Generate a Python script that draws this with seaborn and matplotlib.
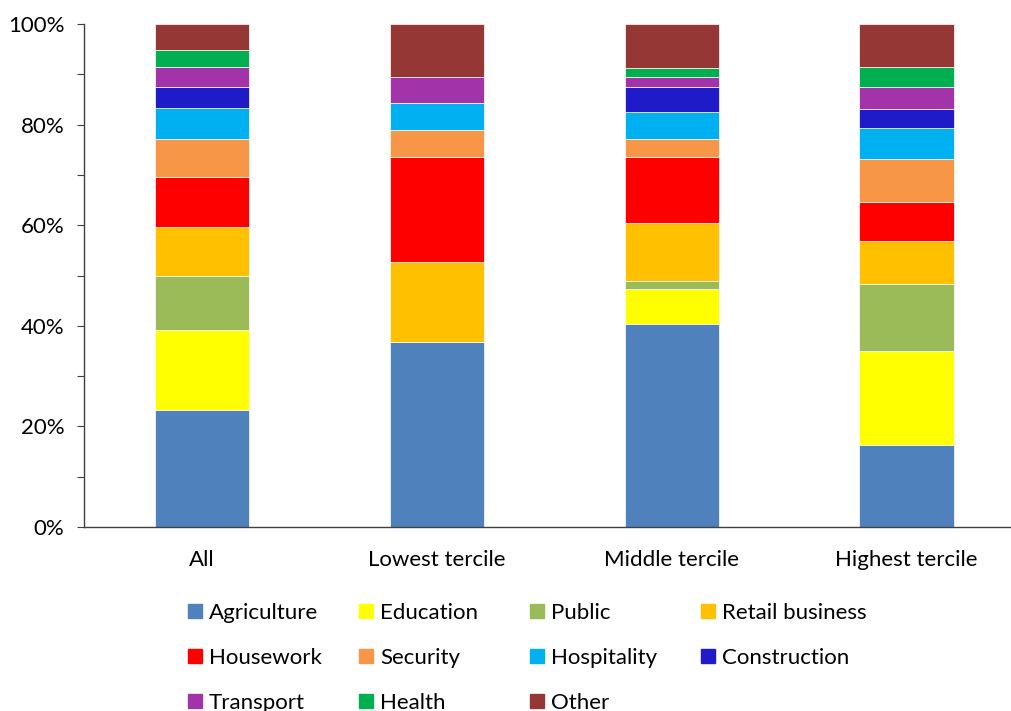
import matplotlib
matplotlib.use("Agg")
import matplotlib.pyplot as plt
from matplotlib.lines import Line2D
from matplotlib.ticker import MultipleLocator, PercentFormatter
import pandas as pd
import seaborn as sns

# groups on the x axis
groups = ["All", "Lowest tercile", "Middle tercile", "Highest tercile"]

# share of employment (%) per sector, bottom to top of each bar
agriculture = [23.3, 36.7, 40.3, 16.3]
education = [15.9, 0.0, 7.0, 18.6]
public = [10.7, 0.0, 1.7, 13.5]
retail_business = [9.7, 15.9, 11.5, 8.4]
housework = [10.0, 21.0, 13.1, 7.9]
security = [7.5, 5.3, 3.6, 8.5]
hospitality = [6.2, 5.3, 5.3, 6.1]
construction = [4.2, 0.0, 5.0, 3.9]
transport = [3.9, 5.2, 1.9, 4.3]
health = [3.4, 0.0, 1.8, 4.0]
other = [5.2, 10.6, 8.8, 8.5]

sectors = ["Agriculture", "Education", "Public", "Retail business", "Housework",
           "Security", "Hospitality", "Construction", "Transport", "Health", "Other"]
values = [agriculture, education, public, retail_business, housework,
          security, hospitality, construction, transport, health, other]
colors = ["#4F81BD", "#FFFF00", "#9BBB59", "#FFC000", "#FF0000",
          "#F79646", "#00B0F0", "#1F1BC8", "#A233A8", "#00B050", "#953735"]

sns.set_style("white")
plt.rcParams["font.family"] = ["Lato", "DejaVu Sans"]
plt.rcParams["text.color"] = "black"

fig = plt.figure(figsize=(10.12, 7.11), dpi=100)
ax = fig.add_axes([84 / 1012, 1 - 527 / 711, 928 / 1012, 503 / 711])

# stack the sectors one on another
bottom = [0.0] * len(groups)
for name, vals, col in zip(sectors, values, colors):
    df = pd.DataFrame({"group": groups, "share": vals})
    sns.barplot(data=df, x="group", y="share", color=col, saturation=1, width=0.4,
                bottom=bottom, edgecolor="white", linewidth=0.5, ax=ax)
    bottom = [b + v for b, v in zip(bottom, vals)]

ax.set_xlim(-0.5, -0.5 + 928 / 235)
ax.set_ylim(0, 100)
ax.yaxis.set_major_locator(MultipleLocator(20))
ax.yaxis.set_minor_locator(MultipleLocator(10))
ax.yaxis.set_major_formatter(PercentFormatter(decimals=0))
ax.tick_params(axis="y", which="both", direction="out", left=True, length=5,
               width=0.8, color="#404040", labelsize=16, labelcolor="black", pad=9)
ax.tick_params(axis="x", bottom=False, labelsize=16, labelcolor="black", pad=13)
ax.set_xlabel("")
ax.set_ylabel("")
for side in ["top", "right"]:
    ax.spines[side].set_visible(False)
for side in ["left", "bottom"]:
    ax.spines[side].set_color("#404040")
    ax.spines[side].set_linewidth(1.0)

# legend: 4 fixed-width columns filled row by row, like the original
handles = [Line2D([], [], marker="s", linestyle="", markersize=10,
                  markerfacecolor=c, markeredgecolor=c) for c in colors]
col_x = [188, 359, 530, 701]
for j in range(4):
    idx = list(range(j, len(sectors), 4))
    fig.legend([handles[i] for i in idx], [sectors[i] for i in idx],
               loc="upper left", bbox_to_anchor=(col_x[j] / 1012, 1 - 603 / 711),
               frameon=False, fontsize=16, handlelength=0.6, handletextpad=0.35,
               labelspacing=1.12, borderaxespad=0, borderpad=0)

fig.savefig("out.png", dpi=100)
